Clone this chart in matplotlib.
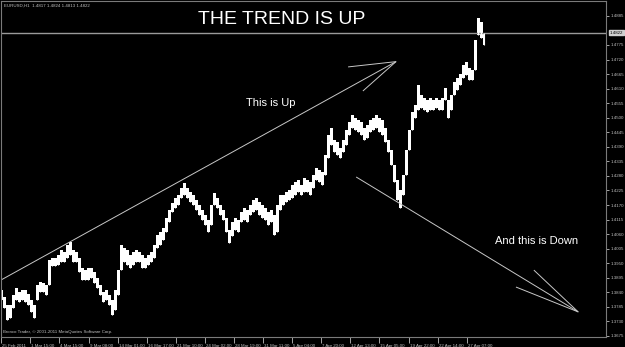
import numpy as np
import matplotlib
matplotlib.use('Agg')
import matplotlib.pyplot as plt
import matplotlib.transforms as mtransforms

plt.rcParams['font.family'] = ['Liberation Sans', 'DejaVu Sans']

# EURUSD H1, bar ranges every 6-7 hours
bar_high = [
    1.3849, 1.3822, 1.3792, 1.3792, 1.3830, 1.3856, 1.3841, 1.3849, 1.3849, 1.3834,
    1.3811, 1.3792, 1.3868, 1.3879, 1.3875, 1.3868, 1.3962, 1.3970, 1.3970, 1.3981,
    1.4000, 1.3992, 1.4019, 1.4030, 1.4000, 1.3992, 1.3970, 1.3932, 1.3924, 1.3932,
    1.3932, 1.3917, 1.3894, 1.3868, 1.3841, 1.3849, 1.3830, 1.3811, 1.3849, 1.3924,
    1.4019, 1.4008, 1.4000, 1.3981, 1.3992, 1.4000, 1.3992, 1.3981, 1.3970, 1.3981,
    1.3992, 1.4019, 1.4057, 1.4068, 1.4083, 1.4121, 1.4151, 1.4178, 1.4197, 1.4208,
    1.4234, 1.4253, 1.4234, 1.4219, 1.4208, 1.4189, 1.4170, 1.4151, 1.4132, 1.4113,
    1.4170, 1.4215, 1.4197, 1.4170, 1.4151, 1.4121, 1.4076, 1.4106, 1.4121, 1.4113,
    1.4144, 1.4159, 1.4151, 1.4170, 1.4189, 1.4197, 1.4181, 1.4170, 1.4159, 1.4144,
    1.4151, 1.4132, 1.4170, 1.4208, 1.4208, 1.4219, 1.4227, 1.4246, 1.4257, 1.4265,
    1.4246, 1.4272, 1.4265, 1.4257, 1.4283, 1.4310, 1.4302, 1.4295, 1.4359, 1.4435,
    1.4461, 1.4416, 1.4408, 1.4386, 1.4416, 1.4454, 1.4484, 1.4510, 1.4499, 1.4491,
    1.4484, 1.4461, 1.4472, 1.4491, 1.4499, 1.4510, 1.4499, 1.4491, 1.4461, 1.4416,
    1.4378, 1.4321, 1.4265, 1.4227, 1.4283, 1.4378, 1.4454, 1.4522, 1.4548, 1.4624,
    1.4586, 1.4575, 1.4567, 1.4575, 1.4567, 1.4575, 1.4567, 1.4575, 1.4612, 1.4567,
    1.4586, 1.4635, 1.4650, 1.4665, 1.4699, 1.4711, 1.4688, 1.4680, 1.4794, 1.4877,
    1.4862, 1.4820,
]
bar_low = [
    1.3811, 1.3781, 1.3735, 1.3743, 1.3781, 1.3811, 1.3803, 1.3811, 1.3803, 1.3792,
    1.3766, 1.3743, 1.3811, 1.3841, 1.3841, 1.3830, 1.3868, 1.3940, 1.3940, 1.3943,
    1.3955, 1.3955, 1.3970, 1.3981, 1.3955, 1.3955, 1.3917, 1.3887, 1.3887, 1.3887,
    1.3894, 1.3875, 1.3856, 1.3830, 1.3803, 1.3811, 1.3792, 1.3754, 1.3773, 1.3830,
    1.3924, 1.3955, 1.3943, 1.3932, 1.3943, 1.3955, 1.3955, 1.3932, 1.3932, 1.3943,
    1.3955, 1.3970, 1.4008, 1.4019, 1.4038, 1.4068, 1.4106, 1.4144, 1.4159, 1.4170,
    1.4197, 1.4208, 1.4197, 1.4181, 1.4170, 1.4151, 1.4132, 1.4113, 1.4094, 1.4068,
    1.4094, 1.4170, 1.4159, 1.4132, 1.4113, 1.4068, 1.4026, 1.4053, 1.4076, 1.4068,
    1.4106, 1.4113, 1.4106, 1.4132, 1.4144, 1.4151, 1.4132, 1.4121, 1.4113, 1.4094,
    1.4106, 1.4057, 1.4068, 1.4151, 1.4170, 1.4181, 1.4189, 1.4197, 1.4208, 1.4219,
    1.4208, 1.4219, 1.4219, 1.4208, 1.4234, 1.4265, 1.4257, 1.4246, 1.4283, 1.4348,
    1.4397, 1.4370, 1.4359, 1.4348, 1.4370, 1.4397, 1.4435, 1.4461, 1.4454, 1.4446,
    1.4435, 1.4416, 1.4423, 1.4446, 1.4454, 1.4461, 1.4446, 1.4435, 1.4408, 1.4370,
    1.4321, 1.4257, 1.4189, 1.4159, 1.4208, 1.4283, 1.4378, 1.4454, 1.4499, 1.4529,
    1.4537, 1.4529, 1.4522, 1.4529, 1.4529, 1.4537, 1.4529, 1.4529, 1.4567, 1.4499,
    1.4529, 1.4586, 1.4605, 1.4624, 1.4650, 1.4662, 1.4643, 1.4643, 1.4680, 1.4813,
    1.4801, 1.4775,
]
hours_per_sample = 6.7

time_labels = [
    "25 Feb 2011", "1 Mar 15:00", "4 Mar 15:00", "9 Mar 08:00", "14 Mar 01:00",
    "16 Mar 17:00", "21 Mar 10:00", "24 Mar 02:00", "28 Mar 19:00", "31 Mar 11:00",
    "5 Apr 04:00", "7 Apr 20:00", "12 Apr 13:00", "15 Apr 05:00", "19 Apr 22:00",
    "22 Apr 14:00", "27 Apr 07:00",
]
hours_per_label = 65

price_ticks = [
    1.3675, 1.3730, 1.3785, 1.3840, 1.3895, 1.3950, 1.4005, 1.4060, 1.4115, 1.4170,
    1.4225, 1.4280, 1.4335, 1.4390, 1.4445, 1.4500, 1.4555, 1.4610, 1.4665, 1.4720,
    1.4775, 1.4885,
]
last_price = 1.4822
header = "EURUSD,H1  1.4817 1.4824 1.4813 1.4822"

# trend lines drawn on the chart (hour, price)
up_line_hours = [0, 882]
up_line_prices = [1.3887, 1.4712]
up_head_hours = [775, 882, 808]
up_head_prices = [1.4692, 1.4712, 1.4601]
down_line_hours = [793, 1289]
down_line_prices = [1.4276, 1.3766]
down_head_hours = [1190, 1289, 1150]
down_head_prices = [1.3924, 1.3766, 1.3860]

W, H = 625, 347
fig = plt.figure(figsize=(W / 100, H / 100), dpi=100, facecolor='black')
ax = fig.add_axes([1 / W, 10 / H, 605 / W, 336 / H], facecolor='black')

hours = np.arange(len(bar_high)) * hours_per_sample
# bars packed so tight they merge into one jagged white band
ax.fill_between(hours, bar_low, bar_high, step='mid', color='white', lw=0)
ax.vlines(hours, bar_low, bar_high, color='white', lw=0.8)

ax.axhline(last_price, color='#9a9a9a', lw=1.0, zorder=1)

line_kw = dict(color='#c8c8c8', lw=0.7, solid_capstyle='butt')
ax.plot(up_line_hours, up_line_prices, **line_kw)
ax.plot(up_head_hours, up_head_prices, **line_kw)
ax.plot(down_line_hours, down_line_prices, **line_kw)
ax.plot(down_head_hours, down_head_prices, **line_kw)

ax.set_xlim(-0.5, 605 * hours_per_sample / 3)
ax.set_ylim(1.36711, 1.49412)

for s in ax.spines.values():
    s.set_color('#7a7a7a')
    s.set_linewidth(0.8)

ax.yaxis.tick_right()
ax.set_yticks(price_ticks)
ax.set_yticklabels([f'{v:.4f}' for v in price_ticks])
ax.tick_params(axis='y', colors='#c0c0c0', labelsize=3.2, length=2, width=0.6, pad=1.5)
for t in ax.yaxis.get_ticklines():
    t.set_color('#7a7a7a')

tick_hours = np.arange(len(time_labels)) * hours_per_label
ax.set_xticks(tick_hours)
ax.set_xticklabels(time_labels)
ax.tick_params(axis='x', colors='#c0c0c0', labelsize=3.2, length=4, width=0.6, pad=1)
for t in ax.xaxis.get_ticklines():
    t.set_color('#7a7a7a')
shift = mtransforms.ScaledTranslation(1 / 100, 0, fig.dpi_scale_trans)
for lab in ax.get_xticklabels():
    lab.set_horizontalalignment('left')
    lab.set_transform(lab.get_transform() + shift)

# current price label on the right scale
tr = mtransforms.blended_transform_factory(ax.transAxes, ax.transData)
ax.text(1.006, last_price, f'{last_price:.4f}', transform=tr, fontsize=3.2, color='black',
        va='center', ha='left',
        bbox=dict(facecolor='#d0d0d0', edgecolor='#d0d0d0', pad=0.6), clip_on=False)


def px(x, y):
    return x / W, 1 - y / H


fig.text(*px(4, 6), header, fontsize=3.2, color='#c0c0c0', va='center', ha='left')
fig.text(*px(3, 332), "Bronco Trader, \u00a9 2001-2011 MetaQuotes Software Corp.",
         fontsize=3.2, color='#c0c0c0', va='center', ha='left')
fig.text(*px(282, 19), 'THE TREND IS UP', fontsize=14, color='white', ha='center', va='center')
fig.text(*px(246, 103), 'This is Up', fontsize=8, color='white', ha='left', va='center')
fig.text(*px(495, 241), 'And this is Down', fontsize=8, color='white', ha='left', va='center')

fig.savefig('out.png', dpi=100, facecolor='black')
